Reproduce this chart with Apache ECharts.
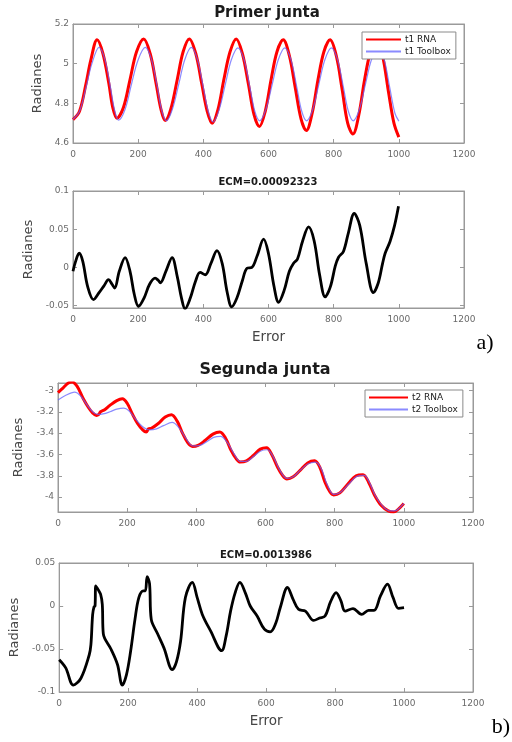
<!DOCTYPE html>
<html>
<head>
<meta charset="utf-8">
<script src="https://cdn.jsdelivr.net/npm/echarts@6/dist/echarts.min.js"></script>
<style>
html,body{margin:0;padding:0;background:#fff;}
#chart{width:512px;height:742px;}
</style>
</head>
<body>
<div id="chart"></div>
<script>
// ---------- DATA ----------
const xTicks = [0, 200, 400, 600, 800, 1000, 1200];
const yTicks1 = [4.6, 4.8, 5, 5.2];
const yTicks2 = [-0.05, 0, 0.05, 0.1];
const yTicks3 = [-4, -3.8, -3.6, -3.4, -3.2, -3];
const yTicks4 = [-0.1, -0.05, 0, 0.05];

const titles = ['Primer junta', 'ECM=0.00092323', 'Segunda junta', 'ECM=0.0013986'];
const seriesNames = ['t1 RNA', 't1 Toolbox', 't2 RNA', 't2 Toolbox'];

const t1RNA = [[0,4.718],[20,4.76],[40,4.90],[55,5.02],[74,5.12],[92,5.05],[110,4.90],[122,4.78],[135,4.725],[155,4.78],[175,4.92],[195,5.06],[217,5.125],[237,5.05],[255,4.90],[270,4.77],[283,4.713],[300,4.77],[320,4.92],[338,5.06],[357,5.125],[377,5.05],[395,4.90],[412,4.76],[427,4.70],[445,4.77],[463,4.92],[482,5.06],[501,5.125],[520,5.05],[538,4.90],[556,4.74],[572,4.683],[590,4.76],[608,4.92],[626,5.06],[645,5.12],[664,5.04],[682,4.88],[700,4.72],[716,4.663],[734,4.75],[752,4.92],[770,5.06],[789,5.12],[808,5.04],[826,4.87],[843,4.70],[859,4.645],[877,4.74],[895,4.92],[913,5.06],[932,5.12],[950,5.04],[968,4.86],[985,4.70],[1000,4.63]];

const t1Toolbox = [[0,4.72],[20,4.76],[40,4.88],[58,5.00],[80,5.082],[98,5.02],[115,4.88],[127,4.77],[140,4.715],[160,4.77],[180,4.90],[200,5.02],[222,5.082],[241,5.02],[259,4.88],[273,4.76],[287,4.712],[305,4.77],[325,4.90],[343,5.02],[363,5.082],[382,5.02],[400,4.88],[415,4.76],[430,4.706],[449,4.77],[468,4.90],[486,5.02],[506,5.08],[525,5.02],[543,4.88],[558,4.76],[573,4.712],[592,4.77],[612,4.90],[630,5.02],[650,5.08],[669,5.02],[687,4.88],[702,4.76],[717,4.712],[736,4.77],[755,4.90],[773,5.02],[793,5.08],[812,5.02],[830,4.88],[845,4.76],[860,4.712],[879,4.77],[898,4.90],[916,5.02],[936,5.08],[955,5.02],[972,4.88],[988,4.75],[1000,4.71]];

const err1 = [[0,-0.005],[8,0.008],[19,0.0186],[30,0.008],[45,-0.025],[63,-0.042],[80,-0.033],[95,-0.024],[109,-0.016],[120,-0.022],[128,-0.027],[142,-0.005],[160,0.013],[175,-0.005],[188,-0.035],[201,-0.051],[218,-0.04],[235,-0.022],[252,-0.014],[262,-0.017],[268,-0.02],[285,-0.005],[304,0.013],[320,-0.012],[333,-0.04],[344,-0.054],[360,-0.04],[376,-0.018],[390,-0.0065],[406,-0.0095],[423,0.005],[442,0.022],[458,0.005],[473,-0.032],[487,-0.0515],[503,-0.04],[520,-0.017],[534,-0.001],[549,0.0],[565,0.015],[585,0.037],[600,0.018],[617,-0.025],[631,-0.0455],[648,-0.03],[664,-0.005],[677,0.0056],[689,0.011],[705,0.035],[723,0.053],[740,0.035],[757,-0.01],[774,-0.0385],[790,-0.025],[805,0.002],[815,0.0134],[830,0.021],[845,0.045],[863,0.0706],[880,0.055],[900,0.005],[922,-0.033],[937,-0.02],[950,0.005],[958,0.0186],[973,0.034],[987,0.055],[999,0.080]];

const t2RNA = [[0,-3.02],[15,-2.975],[30,-2.93],[41,-2.92],[55,-2.96],[72,-3.07],[88,-3.16],[100,-3.21],[111,-3.234],[118,-3.225],[123,-3.20],[135,-3.18],[150,-3.14],[170,-3.095],[186,-3.078],[200,-3.12],[215,-3.22],[230,-3.31],[245,-3.37],[255,-3.39],[262,-3.36],[270,-3.355],[290,-3.31],[310,-3.25],[328,-3.228],[345,-3.29],[360,-3.40],[375,-3.49],[389,-3.525],[405,-3.515],[425,-3.47],[448,-3.41],[468,-3.39],[485,-3.45],[500,-3.56],[515,-3.64],[527,-3.672],[545,-3.66],[565,-3.61],[585,-3.55],[603,-3.537],[618,-3.60],[635,-3.72],[650,-3.80],[662,-3.83],[680,-3.81],[700,-3.75],[722,-3.68],[742,-3.66],[757,-3.72],[772,-3.86],[786,-3.95],[797,-3.98],[815,-3.96],[840,-3.87],[862,-3.80],[882,-3.79],[898,-3.86],[915,-3.98],[935,-4.08],[955,-4.13],[971,-4.14],[985,-4.11],[1000,-4.06]];

const t2Toolbox = [[0,-3.09],[20,-3.05],[48,-3.016],[65,-3.05],[85,-3.14],[100,-3.20],[115,-3.225],[130,-3.22],[150,-3.20],[170,-3.175],[190,-3.166],[205,-3.19],[225,-3.27],[245,-3.34],[265,-3.37],[285,-3.36],[305,-3.33],[330,-3.30],[350,-3.35],[370,-3.45],[390,-3.52],[410,-3.515],[430,-3.48],[450,-3.44],[470,-3.43],[490,-3.49],[510,-3.60],[527,-3.665],[545,-3.665],[565,-3.62],[585,-3.57],[605,-3.556],[622,-3.62],[640,-3.74],[662,-3.825],[680,-3.81],[700,-3.75],[722,-3.69],[745,-3.672],[762,-3.74],[778,-3.88],[797,-3.975],[815,-3.96],[840,-3.88],[862,-3.81],[885,-3.797],[900,-3.86],[918,-3.99],[940,-4.09],[960,-4.13],[974,-4.13],[988,-4.10],[1000,-4.06]];

const err2 = [[0,-0.0625],[19,-0.072],[41,-0.092],[63,-0.084],[87,-0.057],[92,-0.045],[97,-0.01],[101,-0.001],[104,0.0],[106,0.0235],[113,0.019],[120,0.0137],[125,0.002],[128,-0.0325],[150,-0.05],[169,-0.068],[183,-0.092],[195,-0.08],[207,-0.053],[220,-0.015],[231,0.0098],[244,0.0176],[250,0.0176],[255,0.034],[262,0.026],[267,-0.0156],[285,-0.032],[304,-0.049],[328,-0.074],[340,-0.065],[352,-0.041],[366,0.0098],[386,0.0274],[400,0.01],[415,-0.0098],[439,-0.029],[471,-0.052],[484,-0.035],[497,-0.006],[510,0.015],[524,0.0274],[540,0.015],[554,0.0],[574,-0.0117],[595,-0.027],[612,-0.030],[628,-0.02],[641,-0.002],[662,0.0215],[678,0.008],[694,-0.0039],[714,-0.0059],[738,-0.0168],[755,-0.014],[771,-0.0117],[787,0.005],[803,0.0156],[817,0.006],[829,-0.0059],[852,-0.003],[877,-0.0098],[897,-0.005],[913,-0.005],[932,0.012],[952,0.0254],[968,0.01],[984,-0.0027],[1000,-0.002]];

// ---------- LAYOUT ----------
const boxes = [
  {left: 73, top: 24, width: 391, height: 119},
  {left: 73, top: 191, width: 391, height: 117},
  {left: 58, top: 383, width: 415, height: 129},
  {left: 58, top: 563, width: 415, height: 129}
];
const yRanges = [[4.6, 5.2], [-0.053, 0.1], [-4.14, -2.93], [-0.1, 0.05]];
const yTickSets = [yTicks1, yTicks2, yTicks3, yTicks4];
const yNameGaps = [25, 34, 29, 35];
const xNames = ['', 'Error', '', 'Error'];

const FONT = 'DejaVu Sans';
const axisColor = '#9a9a9a';
const labelColor = '#6a6a6a';
const plainNum = v => String(v);

const grid = [], xAxis = [], yAxis = [];
boxes.forEach((b, i) => {
  grid.push({left: b.left, top: b.top, width: b.width, height: b.height,
    show: true, borderColor: axisColor, borderWidth: 1, backgroundColor: '#fff'});
  const xBase = {type: 'value', gridIndex: i, min: 0, max: 1200, interval: 200,
    splitLine: {show: false},
    axisLine: {show: true, onZero: false, lineStyle: {color: axisColor}},
    axisTick: {show: true, inside: true, length: 4, lineStyle: {color: axisColor}}};
  xAxis.push(Object.assign({}, xBase, {
    position: 'bottom',
    axisLabel: {color: labelColor, fontSize: 9, fontFamily: FONT, margin: 7,
      customValues: xTicks, formatter: plainNum},
    name: xNames[i], nameLocation: 'middle', nameGap: 22,
    nameTextStyle: {fontSize: 13.5, color: '#454545', fontFamily: FONT}
  }));
  xAxis.push(Object.assign({}, xBase, {position: 'top', axisLabel: {show: false}}));
  const yt = yTickSets[i];
  const yBase = {type: 'value', gridIndex: i, min: yRanges[i][0], max: yRanges[i][1],
    splitLine: {show: false},
    axisLine: {show: true, onZero: false, lineStyle: {color: axisColor}},
    axisTick: {show: true, inside: true, length: 4, customValues: yt, lineStyle: {color: axisColor}}};
  yAxis.push(Object.assign({}, yBase, {
    position: 'left',
    axisLabel: {color: labelColor, fontSize: 9, fontFamily: FONT, margin: 4,
      customValues: yt, formatter: plainNum},
    name: 'Radianes', nameLocation: 'middle', nameGap: yNameGaps[i], nameRotate: 90,
    nameTextStyle: {fontSize: 13, color: '#454545', fontFamily: FONT}
  }));
  yAxis.push(Object.assign({}, yBase, {position: 'right', axisLabel: {show: false}}));
});

function lineSeries(name, data, gi, color, width, z) {
  return {name: name, type: 'line', data: data, xAxisIndex: gi * 2, yAxisIndex: gi * 2,
    symbol: 'none', smooth: 0.35, z: z, clip: true,
    lineStyle: {color: color, width: width}, itemStyle: {color: color}};
}

const series = [
  lineSeries(seriesNames[0], t1RNA, 0, '#ff0000', 3, 2),
  lineSeries(seriesNames[1], t1Toolbox, 0, 'rgba(100,100,255,0.75)', 1.2, 3),
  lineSeries('e1', err1, 1, '#000000', 2.8, 2),
  lineSeries(seriesNames[2], t2RNA, 2, '#ff0000', 3, 2),
  lineSeries(seriesNames[3], t2Toolbox, 2, 'rgba(100,100,255,0.75)', 1.2, 3),
  lineSeries('e2', err2, 3, '#000000', 2.8, 2)
];

const legendBase = {orient: 'vertical', itemHeight: 10, itemGap: 3,
  padding: [3, 5, 3, 3], borderColor: '#8a8a8a', borderWidth: 1, backgroundColor: '#fff',
  borderRadius: 0, selectedMode: false, z: 10,
  itemStyle: {opacity: 0, borderWidth: 0},
  textStyle: {fontSize: 9, fontFamily: FONT, color: '#222', padding: [0, 0, 0, -1]}};
const legend = [
  Object.assign({}, legendBase, {data: [seriesNames[0], seriesNames[1]], left: 362, top: 32, itemWidth: 35}),
  Object.assign({}, legendBase, {data: [seriesNames[2], seriesNames[3]], left: 365, top: 390, itemWidth: 39})
];

function txt(x, y, text, font, size, weight, align, color) {
  return {type: 'text', x: x, y: y, z: 20, silent: true,
    style: {text: text, fontFamily: font, fontSize: size, fontWeight: weight,
      fill: color || '#1a1a1a', align: align || 'center', verticalAlign: 'middle'}};
}
const graphic = [
  txt(267, 13, titles[0], FONT, 15, 'bold'),
  txt(268, 182, titles[1], FONT, 10, 'bold'),
  txt(265, 370, titles[2], FONT, 16, 'bold'),
  txt(266, 555, titles[3], FONT, 10, 'bold'),
  txt(485, 343, 'a)', 'Liberation Serif', 22, 'normal', 'center', '#000'),
  txt(501, 727, 'b)', 'Liberation Serif', 22, 'normal', 'center', '#000')
];

const chart = echarts.init(document.getElementById('chart'), null, {renderer: 'canvas'});
chart.setOption({
  animation: false,
  backgroundColor: '#fff',
  grid: grid, xAxis: xAxis, yAxis: yAxis, series: series, legend: legend, graphic: graphic
});
</script>
</body>
</html>
